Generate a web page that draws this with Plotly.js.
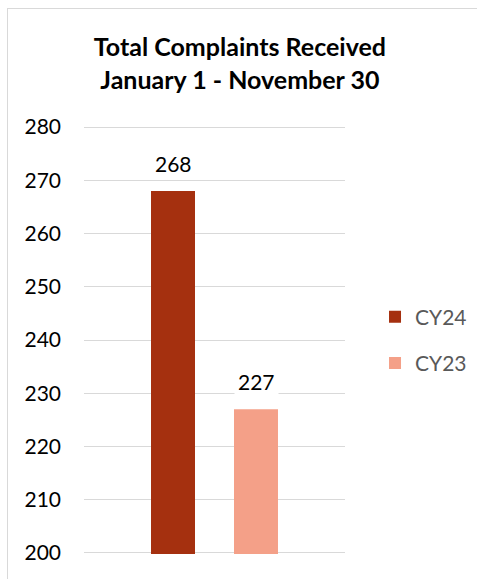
<!DOCTYPE html>
<html><head><meta charset="utf-8">
<script src="https://cdn.plot.ly/plotly-3.0.1.min.js"></script>
<style>
body{margin:0;padding:0;background:#fff;}
#chart{width:477px;height:579px;position:absolute;left:0;top:0;}
#frame{position:absolute;left:7px;top:8px;width:520px;height:620px;border:1px solid #d9d9d9;pointer-events:none;}
</style></head>
<body>
<div id="chart"></div>
<div id="frame"></div>
<script>
const categories = ["Total Complaints"];
const seriesNames = ["CY24", "CY23"];
const cy24 = [268];
const cy23 = [227];
const colors = ["#A5300F", "#F4A088"];
const yTicks = [200, 210, 220, 230, 240, 250, 260, 270, 280];

const seriesVals = [cy24, cy23];
const traces = seriesNames.map((n, i) => ({
  type: "bar", name: n, x: categories, y: seriesVals[i], legendgroup: n,
  marker: {color: colors[i]}, hoverinfo: "none"
}));

const shifts = [-41.5, 41.5];
const annotations = [];
seriesVals.forEach((vals, i) => {
  vals.forEach((v, j) => {
    annotations.push({
      x: categories[j], y: v, xref: "x", yref: "y", text: String(v),
      showarrow: false, xshift: shifts[i], yanchor: "bottom", yshift: 11,
      bgcolor: "#ffffff", borderpad: 3,
      font: {family: "Lato, 'Open Sans', sans-serif", size: 21, color: "#000"}
    });
  });
});

const layout = {
  width: 477, height: 579,
  margin: {l: 84, r: 132, t: 126, b: 25, pad: 0, autoexpand: false},
  paper_bgcolor: "#fff", plot_bgcolor: "#fff",
  title: {
    text: "<b>Total Complaints Received<br>January 1 - November 30</b>",
    x: 0.503, xref: "container", xanchor: "center",
    yref: "container", y: 0.903, yanchor: "top",
    font: {family: "Lato, 'Open Sans', sans-serif", size: 25, color: "#000"}
  },
  barmode: "group", bargap: 0.364, bargroupgap: 0.47,
  xaxis: {showticklabels: false, showgrid: false, zeroline: false, showline: false, ticks: ""},
  yaxis: {
    range: [199.8, 280.2], tickvals: yTicks, ticktext: yTicks.map(String),
    showgrid: true, gridcolor: "#d9d9d9", gridwidth: 1, zeroline: false, showline: false,
    ticks: "", ticklabelstandoff: 22,
    tickfont: {family: "Lato, 'Open Sans', sans-serif", size: 21, color: "#000"}
  },
  legend: {
    x: 1.115, xanchor: "left", y: 0.5, yanchor: "middle",
    font: {family: "Lato, 'Open Sans', sans-serif", size: 21, color: "#595959"},
    tracegroupgap: 16, itemwidth: 30, traceorder: "grouped"
  },
  annotations: annotations,
  showlegend: true
};
Plotly.newPlot("chart", traces, layout, {staticPlot: true, displayModeBar: false});
</script>
</body></html>
